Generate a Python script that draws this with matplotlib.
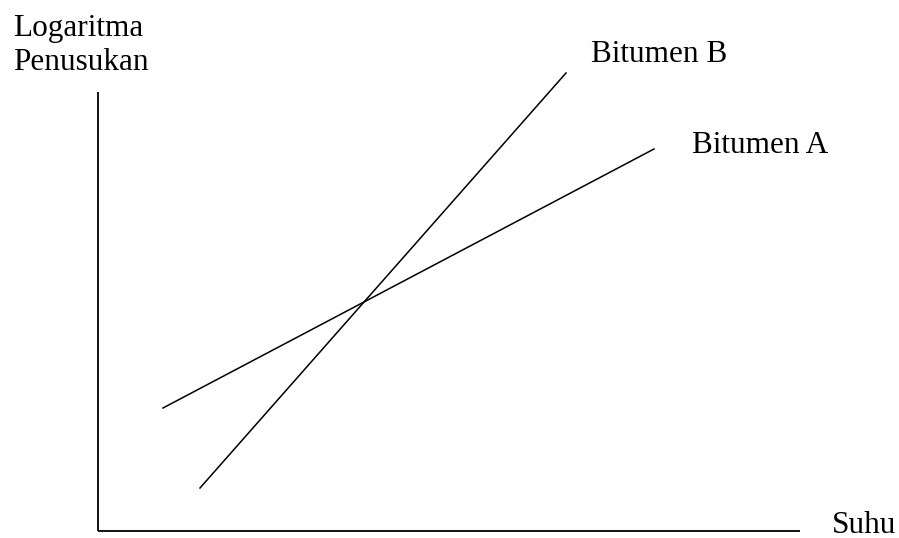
import matplotlib
matplotlib.use("Agg")
import matplotlib.pyplot as plt

# schematic data (origin at the axis corner)
bitumen_a_x = [65, 556]
bitumen_a_y = [123, 382]
bitumen_b_x = [102, 468]
bitumen_b_y = [43, 458]
x_axis = ([0, 702], [0, 0])
y_axis = ([0, 0], [0, 439])

y_label = ["Logaritma", "Penusukan"]
x_label = "Suhu"
series_names = ["Bitumen A", "Bitumen B"]

plt.rcParams['font.family'] = ['Liberation Serif', 'DejaVu Serif']

fig = plt.figure(figsize=(8.99, 5.38), dpi=100)
ax = fig.add_axes([0, 0, 1, 1])
ax.set_xlim(-98, 801)
ax.set_ylim(-7, 531)
ax.axis('off')

ax.plot(*x_axis, color='black', lw=1.3, solid_capstyle='butt')
ax.plot(*y_axis, color='black', lw=1.3, solid_capstyle='butt')
ax.plot(bitumen_a_x, bitumen_a_y, color='black', lw=1.1)
ax.plot(bitumen_b_x, bitumen_b_y, color='black', lw=1.1)

fs = 22.5
ax.text(-85, 495, y_label[0], fontsize=fs, va='baseline')
ax.text(-85, 461, y_label[1], fontsize=fs, va='baseline')
ax.text(734, -2, x_label, fontsize=fs, va='baseline')
ax.text(594, 378, series_names[0], fontsize=fs, va='baseline')
ax.text(493, 469, series_names[1], fontsize=fs, va='baseline')

fig.savefig("out.png", dpi=100)
